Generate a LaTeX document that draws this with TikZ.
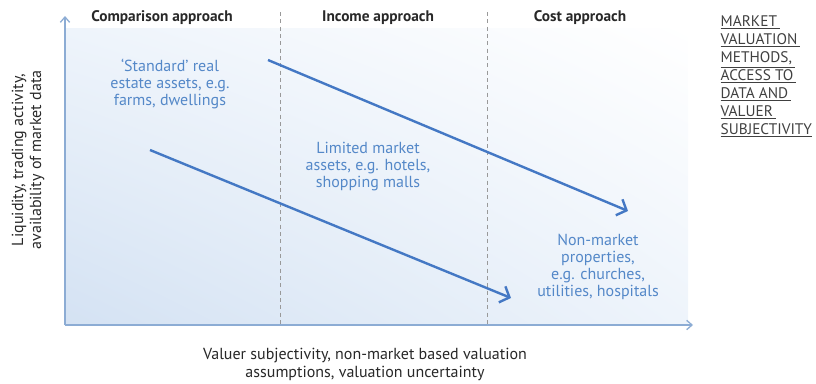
\documentclass[tikz,border=0pt]{standalone}
\usepackage{fontspec}
\setmainfont{PT Sans}
\usetikzlibrary{arrows.meta,shadings}
\definecolor{arrblue}{RGB}{68,120,196}
\definecolor{txtblue}{RGB}{84,136,200}
\definecolor{axblue}{RGB}{140,172,212}
\definecolor{txtgrey}{RGB}{40,40,40}
\definecolor{shadeblue}{RGB}{212,226,243}
\definecolor{shadelight}{RGB}{238,244,251}
\tikzset{
  axisline/.style={draw=axblue, line width=1pt, -{Straight Barb[length=4pt,width=7pt]}},
  trendarrow/.style={draw=arrblue, line width=1.8pt, -{Straight Barb[length=6pt,width=13pt,line width=1.8pt]}},
  divider/.style={draw=black!40, line width=0.6pt, dash pattern=on 3pt off 2.5pt},
  header/.style={font=\fontsize{11.5}{13}\selectfont\bfseries, text=txtgrey},
  assettext/.style={align=center, text=txtblue, font=\fontsize{12}{12.75}\selectfont},
}
\begin{document}
\begin{tikzpicture}[x=0.75pt,y=0.75pt,yscale=-1,xscale=1, font=\fontsize{12}{13.5}\selectfont]
\useasboundingbox (0,0) rectangle (816,383);
%Shaded plot area
\shade[lower left=shadeblue, lower right=shadelight, upper left=shadelight, upper right=white] (65,28) rectangle (688,325);
%Axes
\coordinate (origin) at (65,325);
\coordinate (ytop) at (65,16);
\coordinate (xend) at (693,325);
\draw [axisline] (origin) -- (ytop);
\draw [axisline] (origin) -- (xend);
%Dashed Lines
\coordinate (divAtop) at (280,12);
\coordinate (divAbot) at (280,325);
\coordinate (divBtop) at (487,12);
\coordinate (divBbot) at (487,325);
\draw [divider] (divAtop) -- (divAbot);
\draw [divider] (divBtop) -- (divBbot);
%Straight Lines
\coordinate (upperstart) at (268,60);
\coordinate (upperend) at (628,211);
\coordinate (lowerstart) at (150,150);
\coordinate (lowerend) at (511,298);
\draw [trendarrow] (upperstart) -- (upperend);
\draw [trendarrow] (lowerstart) -- (lowerend);
% Text Node
\node (hdcomp) [header] at (162,18) {Comparison approach};
% Text Node
\node (hdincome) [header] at (378,18) {Income approach};
% Text Node
\node (hdcost) [header] at (580,18) {Cost approach};
% Text Node
\node (standard) [assettext] at (170,84) {‘Standard’ real\\estate assets, e.g.\\farms, dwellings};
% Text Node
\node (limited) [assettext] at (368,167) {Limited market\\assets, e.g. hotels,\\shopping malls};
% Text Node
\node (nonmarket) [assettext] at (598,267) {Non-market\\properties,\\e.g. churches,\\utilities, hospitals};
% Text Node
\node (ylabel) [align=center, rotate=90, text=txtgrey] at (28,160) {Liquidity, trading activity,\\availability of market data};
% Text Node
\node (xlabel) [align=center, text=txtgrey] at (365,364) {Valuer subjectivity, non-market based valuation\\assumptions, valuation uncertainty};
% Text Node
\node (methods) [anchor=north west, align=left, text=black!75, font=\fontsize{11.5}{13.5}\selectfont] at (716,11) {\underline{MARKET\,}\\\underline{VALUATION\,}\\\underline{METHODS,\,}\\\underline{ACCESS TO\,}\\\underline{DATA AND\,}\\\underline{VALUER\,}\\\underline{SUBJECTIVITY}};
\end{tikzpicture}
\end{document}
